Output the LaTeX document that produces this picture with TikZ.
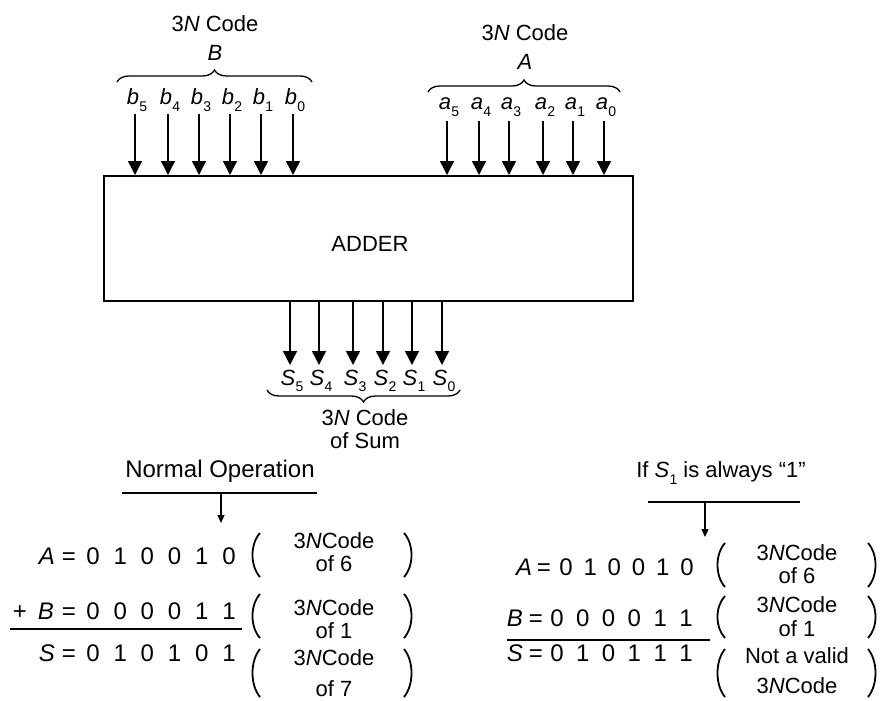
\documentclass[tikz,border=0pt]{standalone}
\usepackage{fontspec}
\setmainfont{Liberation Sans}
\usetikzlibrary{arrows.meta,decorations.pathreplacing}
\newcommand{\vsub}[2]{\textit{#1}\kern0.3pt\raisebox{-0.3em}{\fontsize{14}{15}\selectfont #2}}
\newcommand{\lpar}[3]{\draw[paren] (#1+6,#2-#3) .. controls (#1-4,#2-#3/2) and (#1-4,#2+#3/2) .. (#1+6,#2+#3);}
\newcommand{\rpar}[3]{\draw[paren] (#1-6,#2-#3) .. controls (#1+4,#2-#3/2) and (#1+4,#2+#3/2) .. (#1-6,#2+#3);}
\begin{document}
\begin{tikzpicture}[x=1pt,y=-1pt,
  txt/.style={font=\fontsize{22}{24}\selectfont, inner sep=0pt},
  lbl/.style={font=\fontsize{22}{24}\selectfont, inner sep=0pt},
  row/.style={font=\fontsize{24}{26}\selectfont, inner sep=0pt, anchor=base},
  note/.style={font=\fontsize{22}{24}\selectfont, inner sep=0pt},
  pnote/.style={font=\fontsize{22}{24}\selectfont, inner sep=0pt, anchor=base},
  bus/.style={line width=1.4pt, -{Triangle[width=14pt,length=14pt]}},
  small/.style={line width=1.2pt, -{Triangle[width=7pt,length=8pt]}},
  brc/.style={line width=1.3pt, decorate, decoration={brace, amplitude=12pt}},
  rule/.style={line width=1.5pt},
  paren/.style={line width=1.8pt}]
\useasboundingbox (0,0) rectangle (887,701);

% adder box
\node[draw, line width=1.5pt, minimum width=529pt, minimum height=125pt, anchor=north west, inner sep=0pt] (adder) at (103,175) {};
\node[lbl] (addertxt) at (370,244) {ADDER};

% B inputs
\foreach \i/\x in {5/135,4/168,3/199,2/230,1/261,0/293}{
  \node[txt] (b\i) at (\x+2,100) {\vsub{b}{\i}};
  \coordinate (bs\i) at (\x,114);
  \draw[bus] (bs\i) -- (bs\i |- adder.north);
}
\draw[brc] (117,82) -- (312,82);
\node[txt] (Blbl) at (215,53) {\textit{B}};
\node[txt] (Bcode) at (215,24) {3\textit{N} Code};

% A inputs
\foreach \i/\x in {5/447,4/479,3/509,2/543,1/573,0/604}{
  \node[txt] (a\i) at (\x+2,107) {\vsub{a}{\i}};
  \coordinate (as\i) at (\x,121);
  \draw[bus] (as\i) -- (as\i |- adder.north);
}
\draw[brc] (428,92) -- (620,92);
\node[txt] (Albl) at (525,62) {\textit{A}};
\node[txt] (Acode) at (525,33) {3\textit{N} Code};

% Sum outputs
\foreach \i/\x in {5/290,4/319,3/353,2/383,1/412,0/442}{
  \coordinate (se\i) at (\x,365);
  \draw[bus] (adder.south -| se\i) -- (se\i);
  \node[txt] (s\i) at (\x+2,381) {\vsub{S}{\i}};
}
\draw[brc] (460,390) -- (267,390);
\node[txt] (Scode) at (365,418) {3\textit{N} Code};
\node[txt] (Ssum) at (365,441) {of Sum};

% ---- Normal operation ----
\node[note, font=\fontsize{24}{26}\selectfont] (normal) at (220,471) {Normal Operation};
\coordinate (nl1) at (122,493); \coordinate (nl2) at (317,493);
\draw[rule] (nl1) -- (nl2);
\coordinate (na1) at (221,493); \coordinate (na2) at (221,523);
\draw[small] (na1) -- (na2);

\node[row] (lA) at (47,564) {\textit{A}};
\node[row] (lAe) at (69,564) {=};
\foreach \d [count=\j from 0] in {0,1,0,0,1,0} \node[row] (lA\j) at ({93+27.2*\j},564) {\d};
\node[row] (lBp) at (20,619) {+};
\node[row] (lB) at (46,619) {\textit{B}};
\node[row] (lBe) at (69,619) {=};
\foreach \d [count=\j from 0] in {0,0,0,0,1,1} \node[row] (lB\j) at ({93+27.2*\j},619) {\d};
\coordinate (lr1) at (10,629); \coordinate (lr2) at (242,629);
\draw[rule] (lr1) -- (lr2);
\node[row] (lS) at (47,661) {\textit{S}};
\node[row] (lSe) at (69,661) {=};
\foreach \d [count=\j from 0] in {0,1,0,1,0,1} \node[row] (lS\j) at ({93+27.2*\j},661) {\d};

\lpar{254}{555}{22} \rpar{410}{555}{22}
\node[pnote] (lAc1) at (334,548) {3\textit{N}Code};
\node[pnote] (lAc2) at (334,571) {of 6};
\lpar{254}{616}{22} \rpar{410}{616}{22}
\node[pnote] (lBc1) at (334,615) {3\textit{N}Code};
\node[pnote] (lBc2) at (334,638) {of 1};
\lpar{254}{673}{24} \rpar{410}{673}{24}
\node[pnote] (lSc1) at (334,665) {3\textit{N}Code};
\node[pnote] (lSc2) at (334,696) {of 7};

% ---- S1 always 1 ----
\node[note] (always) at (721,473) {If \vsub{S}{1} is always ``1''};
\coordinate (rl1) at (648,502); \coordinate (rl2) at (800,502);
\draw[rule] (rl1) -- (rl2);
\coordinate (ra1) at (705,502); \coordinate (ra2) at (705,537);
\draw[small] (ra1) -- (ra2);

\node[row] (rA) at (524,575) {\textit{A}};
\node[row] (rAe) at (544,575) {=};
\foreach \d [count=\j from 0] in {0,1,0,0,1,0} \node[row] (rA\j) at ({566+24.2*\j},575) {\d};
\node[row] (rB) at (515,626) {\textit{B}};
\node[row] (rBe) at (536,626) {=};
\foreach \d [count=\j from 0] in {0,0,0,0,1,1} \node[row] (rB\j) at ({557+25.8*\j},626) {\d};
\coordinate (rr1) at (507,640); \coordinate (rr2) at (710,640);
\draw[rule] (rr1) -- (rr2);
\node[row] (rS) at (515,661) {\textit{S}};
\node[row] (rSe) at (536,661) {=};
\foreach \d [count=\j from 0] in {0,1,0,1,1,1} \node[row] (rS\j) at ({557+25.8*\j},661) {\d};

\lpar{719}{565}{22} \rpar{874}{565}{22}
\node[pnote] (rAc1) at (797,560) {3\textit{N}Code};
\node[pnote] (rAc2) at (797,583) {of 6};
\lpar{719}{617}{21} \rpar{874}{617}{21}
\node[pnote] (rBc1) at (797,612) {3\textit{N}Code};
\node[pnote] (rBc2) at (797,636) {of 1};
\lpar{719}{673}{24} \rpar{874}{673}{24}
\node[pnote] (rSc1) at (797,663) {Not a valid};
\node[pnote] (rSc2) at (797,693) {3\textit{N}Code};
\end{tikzpicture}
\end{document}
